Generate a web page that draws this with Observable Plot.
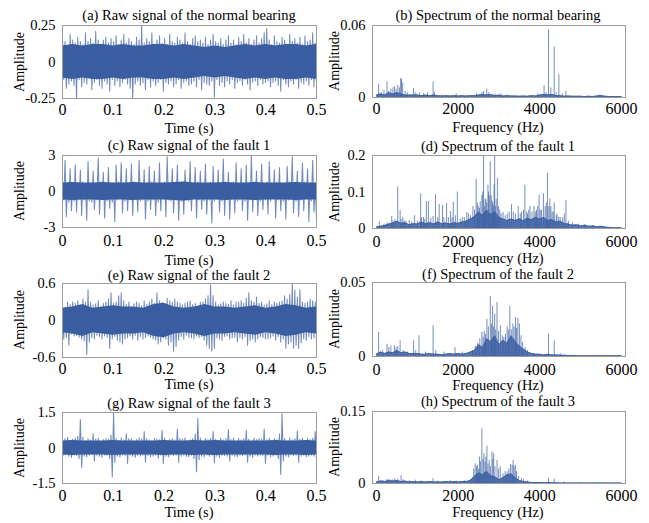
<!DOCTYPE html>
<html><head><meta charset="utf-8">
<script src="https://cdn.jsdelivr.net/npm/d3@7"></script>
<script src="https://cdn.jsdelivr.net/npm/@observablehq/plot@0.6"></script>
<style>
body{margin:0;background:#fff;}
#root{position:relative;width:649px;height:523px;overflow:hidden;background:#fff;font-family:"Liberation Serif","Times New Roman",serif;color:#000;}
.t{position:absolute;white-space:nowrap;transform:translate(-50%,-50%);font-size:14.5px;line-height:1;}
.yl{position:absolute;white-space:nowrap;transform:translate(-50%,-50%) rotate(-90deg);font-size:14px;line-height:1;}
svg{position:absolute;}
svg text{font-family:"Liberation Serif","Times New Roman",serif !important;}
</style></head><body><div id="root"></div>
<script>
// ---------- data ----------
const titles = ["(a) Raw signal of the normal bearing","(b) Spectrum of the normal bearing",
  "(c) Raw signal of the fault 1","(d) Spectrum of the fault 1",
  "(e) Raw signal of the fault 2","(f) Spectrum of the fault 2",
  "(g) Raw signal of the fault 3","(h) Spectrum of the fault 3"];
const timeTicks = [0,0.1,0.2,0.3,0.4,0.5];
const freqTicks = [0,2000,4000,6000];
const ampTicksA = [-0.25,0,0.25], ampTicksC = [-3,0,3], ampTicksE = [-0.6,0,0.6], ampTicksG = [-1.5,0,1.5];
const ampTicksB = [0,0.06], ampTicksD = [0,0.1,0.2], ampTicksF = [0,0.05], ampTicksH = [0,0.15];

// raw signals: sample peaks over 0 .. 0.5 s
const sigA = [.16,-.12,.14,-.18,.11,-.15,.19,-.13,.15,-.16,
.13,-.25,.17,-.12,.14,-.17,.12,-.14,.2,-.15,
.14,-.11,.16,-.19,.13,-.14,.21,-.12,.15,-.16,
.12,-.18,.15,-.13,.17,-.15,.13,-.2,.16,-.12,
.14,-.16,.18,-.13,.12,-.17,.15,-.14,.19,-.12,
.13,-.15,.16,-.18,.14,-.25,.12,-.15,.17,-.13,
.15,-.16,.25,-.14,.13,-.19,.16,-.12,.14,-.17,
.2,-.13,.12,-.16,.15,-.14,.18,-.12,.13,-.2,
.16,-.14,.12,-.15,.19,-.13,.14,-.17,.13,-.15,
.17,-.12,.15,-.18,.13,-.14,.2,-.13,.14,-.16,
.12,-.15,.16,-.13,.18,-.17,.14,-.12,.15,-.19,
.13,-.14,.17,-.15,.12,-.16,.15,-.13,.19,-.24,
.14,-.12,.13,-.16,.16,-.14,.12,-.17,.15,-.13,
.18,-.15,.13,-.12,.15,-.18,.12,-.14,.17,-.13,
.14,-.16,.19,-.12,.13,-.15,.16,-.19,.12,-.14,
.15,-.13,.18,-.16,.13,-.12,.16,-.15,.2,-.14,
.23,-.13,.15,-.17,.12,-.14,.18,-.13,.14,-.16,
.13,-.2,.17,-.12,.15,-.15,.12,-.17,.19,-.13,
.14,-.15,.16,-.12,.13,-.18,.17,-.14,.12,-.15,
.18,-.13,.14,-.16,.15,-.12,.2,-.17,.13,-.14];
const sigC = [.8,-.7,2.6,-2.1,.7,-.9,1.9,-1.6,.6,-.8,
2.2,-1.7,.7,-.6,1.8,-2.0,.8,-.7,.6,-2.4,
2.5,-.8,.7,-.9,1.7,-1.5,.6,-.7,2.8,-1.9,
.8,-.6,1.6,-2.2,.7,-.8,2.0,-1.4,.6,-.9,
.7,-2.5,2.2,-.7,.8,-.6,2.4,-1.8,.7,-.8,
1.9,-1.6,.6,-.7,2.3,-2.0,.8,-.6,.7,-1.7,
2.6,-.8,.6,-.7,1.8,-2.3,.7,-.8,2.1,-1.5,
.8,-.7,1.7,-2.0,.6,-.9,2.4,-1.6,.7,-.6,
.8,-2.1,2.9,-.7,.6,-.8,1.9,-1.8,.7,-.7,
2.2,-2.4,.6,-.8,.8,-1.9,1.8,-.7,.6,-.8,
2.5,-1.6,.7,-.6,2.0,-2.2,.8,-.7,1.7,-1.5,
.6,-.8,2.3,-1.9,.7,-.7,.8,-2.6,2.1,-.8,
.7,-.6,1.8,-1.7,.6,-.8,2.7,-2.0,.8,-.7,
1.6,-2.3,.7,-.6,.8,-1.8,2.4,-.8,.6,-.7,
1.9,-1.6,.7,-.8,2.2,-2.4,.6,-.7,3.0,-1.7,
.8,-.6,1.7,-2.0,.7,-.8,2.3,-1.5,.6,-.7,
.8,-1.9,2.5,-.8,.7,-.6,1.8,-2.2,.8,-.7,
2.0,-1.6,.6,-.8,.7,-2.3,2.1,-.7,.8,-.6,
2.9,-1.8,.7,-.8,1.7,-2.1,.6,-.7,2.4,-1.6,
.8,-.6,1.9,-2.5,.7,-.8,2.6,-1.7,.7,-2.4];
const sigE = [.25,-.3,.22,-.28,.3,-.4,.26,-.22,.3,-.25,
.28,-.24,.32,-.27,.22,-.3,.35,-.33,.3,-.55,
.5,-.35,.3,-.28,.25,-.3,.27,-.24,.32,-.26,
.22,-.3,.28,-.25,.3,-.27,.35,-.45,.45,-.3,
.28,-.26,.3,-.32,.4,-.35,.45,-.38,.32,-.3,
.26,-.28,.3,-.25,.22,-.3,.27,-.24,.3,-.32,
.28,-.26,.24,-.3,.32,-.28,.26,-.25,.3,-.27,
.35,-.3,.28,-.32,.45,-.38,.32,-.35,.3,-.28,
.26,-.3,.36,-.4,.32,-.35,.3,-.5,.35,-.42,
.3,-.32,.28,-.26,.25,-.3,.28,-.24,.3,-.27,
.32,-.28,.26,-.3,.28,-.25,.22,-.28,.3,-.26,
.3,-.32,.35,-.4,.4,-.45,.58,-.5,.4,-.45,
.3,-.28,.25,-.3,.27,-.32,.3,-.26,.28,-.25,
.26,-.3,.32,-.28,.25,-.27,.3,-.35,.3,-.28,
.32,-.3,.28,-.26,.36,-.4,.45,-.33,.32,-.3,
.3,-.35,.38,-.3,.28,-.26,.3,-.28,.25,-.3,
.27,-.3,.32,-.28,.26,-.25,.3,-.32,.28,-.26,
.3,-.35,.32,-.3,.4,-.45,.35,-.38,.42,-.35,
.6,-.45,.5,-.4,.38,-.45,.5,-.36,.3,-.3,
.28,-.32,.3,-.26,.35,-.3,.32,-.28,.3,-.35];
const sigG = [.35,-.3,.4,-.28,.45,-.35,.3,-.4,.38,-.3,
.42,-.32,.5,-.45,1.2,-.82,.45,-.35,.3,-.38,
.4,-.3,.35,-.28,.6,-.55,.38,-.3,.42,-.35,
.3,-.4,.36,-.3,.4,-.32,.38,-.45,.55,-1.22,
1.48,-.6,.4,-.35,.3,-.38,.42,-.3,.35,-.32,
.6,-.65,.4,-.3,.38,-.35,.3,-.4,.36,-.3,
.42,-.35,.38,-.3,.7,-.6,.4,-.32,.35,-.38,
.3,-.35,.4,-.3,.38,-.42,.35,-.3,.75,-.65,
.42,-.35,.3,-.38,.36,-.3,.4,-.32,.35,-.3,
.8,-.6,.4,-.35,.38,-.3,.42,-.36,.3,-.38,
.35,-.3,.4,-.45,.6,-1.0,1.25,-.5,.42,-.35,
.3,-.38,.4,-.3,.36,-.35,.4,-.3,.7,-.62,
.38,-.35,.3,-.4,.42,-.3,.35,-.32,.4,-.35,
.78,-.55,.36,-.3,.42,-.35,.3,-.38,.4,-.3,
.35,-.32,.4,-.3,.75,-.6,.38,-.35,.3,-.4,
.42,-.3,.36,-.35,.4,-.3,.38,-.32,.8,-.65,
.35,-.3,.42,-.38,.3,-.35,.4,-.3,.36,-.45,
.6,-1.12,1.45,-.55,.4,-.35,.3,-.38,.42,-.3,
.35,-.32,.4,-.3,.72,-.6,.38,-.35,.42,-.3,
.3,-.38,.4,-.35,.36,-.3,.42,-.35,.7,-.5];
// dense core half-width of each raw signal, every 0.02 s
const coreA = [.11,.12,.11,.12,.12,.11,.12,.11,.11,.12,.12,.11,.12,.11,.1,.11,.1,.11,.12,.11,.12,.11,.12,.12,.11,.12];
const coreC = [.7,.75,.7,.7,.75,.7,.7,.75,.7,.7,.7,.75,.8,.7,.7,.7,.75,.7,.7,.75,.7,.7,.7,.75,.7,.7];
const coreE = [.2,.22,.26,.2,.22,.24,.22,.22,.2,.26,.28,.22,.2,.22,.26,.22,.22,.2,.22,.24,.2,.22,.26,.24,.2,.22];
const coreG = [.3,.32,.3,.3,.3,.32,.3,.3,.3,.3,.32,.3,.3,.32,.3,.32,.3,.3,.3,.3,.3,.32,.3,.3,.32,.3];

// spectra: noise floor every 100 Hz (0..6000) and [frequency, amplitude] peaks
const floorB = [.002,.003,.002,.004,.003,.004,.003,.002,.002,.002,
.002,.0015,.002,.0015,.002,.0015,.0012,.0015,.0012,.0015,
.0012,.0015,.0012,.0015,.0015,.002,.0025,.002,.0025,.0015,
.002,.0012,.0015,.0012,.0012,.001,.0012,.001,.0015,.0012,
.002,.0025,.002,.0025,.0015,.0015,.001,.0012,.001,.001,
.001,.0008,.001,.0008,.0012,.0015,.001,.0008,.0008,.0008,.0008];
const peaksB = [[50,.011],[120,.004],[180,.006],[255,.013],[300,.005],[350,.007],[400,.008],[440,.009],[480,.007],[520,.010],[560,.008],[590,.016],[610,.015],[640,.012],[700,.005],[760,.004],[905,.0075],[960,.004],[1050,.004],[1150,.003],[1250,.004],[1385,.013],[1420,.004],[1600,.002],[1950,.003],[2450,.003],[2580,.004],[2620,.005],[2700,.007],[2750,.004],[2900,.003],[3050,.003],[3200,.002],[3950,.003],[4105,.0098],[4150,.004],[4213,.0565],[4270,.008],[4353,.042],[4400,.004],[4468,.019],[4550,.003],[4640,.005],[5450,.002],[5500,.002]];
const floorD = [.004,.006,.008,.012,.015,.02,.014,.016,.01,.013,
.012,.018,.013,.016,.012,.018,.013,.015,.012,.016,
.014,.018,.02,.026,.032,.045,.036,.05,.038,.046,
.03,.026,.022,.026,.022,.027,.021,.028,.024,.03,
.026,.03,.022,.024,.018,.02,.014,.012,.009,.01,
.007,.009,.006,.007,.005,.006,.004,.003,.002,.002,.002];
const peaksD = [[66,.018],[180,.012],[260,.015],[371,.033],[400,.02],[450,.025],[519,.114],[577,.049],[600,.025],[643,.03],[680,.02],[720,.02],[800,.022],[860,.018],[931,.035],[1000,.02],[1080,.095],[1100,.03],[1150,.03],[1180,.025],[1220,.074],[1270,.074],[1330,.028],[1385,.033],[1443,.093],[1500,.03],[1533,.066],[1616,.063],[1650,.03],[1715,.068],[1760,.03],[1814,.046],[1850,.03],[1880,.072],[1930,.035],[1979,.1],[2050,.025],[2100,.03],[2150,.03],[2209,.044],[2250,.04],[2300,.035],[2360,.06],[2400,.05],[2440,.135],[2470,.07],[2490,.06],[2520,.055],[2539,.074],[2580,.09],[2600,.1],[2622,.2],[2640,.06],[2660,.08],[2680,.08],[2700,.07],[2729,.119],[2745,.1],[2760,.09],[2786,.183],[2810,.09],[2830,.075],[2845,.07],[2860,.063],[2880,.12],[2894,.2],[2910,.06],[2930,.08],[2960,.137],[2990,.06],[3020,.05],[3050,.04],[3100,.044],[3150,.035],[3200,.04],[3250,.045],[3306,.065],[3350,.045],[3400,.04],[3470,.06],[3520,.04],[3550,.045],[3600,.05],[3635,.119],[3680,.045],[3700,.04],[3730,.05],[3759,.061],[3810,.045],[3858,.06],[3890,.045],[3920,.05],[3950,.06],[3982,.091],[4010,.05],[4040,.05],[4089,.095],[4130,.06],[4160,.07],[4188,.151],[4220,.06],[4246,.081],[4270,.06],[4300,.045],[4330,.045],[4353,.07],[4400,.035],[4420,.04],[4460,.03],[4500,.03],[4560,.03],[4600,.04],[4641,.077],[4700,.02],[4800,.015],[4950,.012],[5100,.01],[5300,.008]];
const floorF = [.0015,.003,.002,.003,.0025,.004,.0025,.003,.002,.002,
.002,.0015,.0015,.002,.0015,.0015,.0012,.0015,.002,.0015,
.002,.0015,.002,.003,.004,.008,.006,.012,.01,.014,
.008,.011,.009,.014,.01,.007,.005,.003,.002,.0015,
.0015,.001,.0015,.001,.001,.0008,.0008,.0006,.0006,.0005,
.0005,.0005,.0005,.0005,.0005,.0005,.0005,.0005,.0005,.0005,.0005];
const peaksF = [[50,.0162],[150,.004],[255,.0083],[300,.006],[350,.007],[437,.0072],[480,.006],[520,.0068],[577,.0106],[650,.004],[760,.003],[907,.0106],[960,.004],[1039,.014],[1200,.003],[1385,.0207],[1450,.004],[1650,.003],[1921,.006],[2100,.003],[2350,.004],[2420,.007],[2480,.009],[2530,.012],[2580,.0162],[2610,.013],[2638,.017],[2670,.015],[2704,.025],[2740,.02],[2786,.0405],[2815,.022],[2844,.034],[2870,.02],[2894,.0286],[2920,.018],[2951,.0365],[2990,.017],[3034,.0207],[3080,.014],[3120,.013],[3160,.015],[3200,.02],[3230,.018],[3265,.0338],[3300,.018],[3340,.022],[3370,.02],[3405,.0264],[3430,.019],[3462,.0257],[3500,.022],[3540,.014],[3580,.0095],[3640,.006],[3700,.004],[3850,.002],[4213,.0151],[4353,.0106],[4500,.002]];
const floorH = [.003,.005,.004,.006,.005,.006,.004,.005,.003,.004,
.003,.004,.003,.004,.003,.003,.003,.004,.003,.004,
.003,.004,.004,.006,.015,.022,.018,.025,.016,.014,
.008,.012,.018,.02,.012,.006,.004,.003,.002,.002,
.002,.0015,.002,.0015,.0015,.001,.001,.001,.001,.001,
.001,.001,.001,.001,.001,.001,.001,.001,.001,.001,.001];
const peaksH = [[50,.015],[150,.006],[250,.008],[300,.009],[380,.008],[450,.01],[520,.009],[600,.016],[650,.008],[800,.006],[950,.007],[1100,.005],[1385,.01],[1500,.005],[1800,.006],[1950,.005],[2150,.006],[2300,.008],[2380,.03],[2415,.041],[2450,.035],[2470,.038],[2500,.03],[2523,.055],[2550,.045],[2580,.114],[2610,.05],[2630,.062],[2660,.045],[2680,.055],[2704,.078],[2730,.04],[2760,.048],[2790,.035],[2828,.066],[2850,.05],[2870,.062],[2900,.035],[2951,.048],[2990,.03],[3030,.035],[3100,.02],[3150,.025],[3200,.024],[3240,.03],[3280,.04],[3320,.038],[3347,.048],[3370,.035],[3400,.038],[3430,.025],[3480,.015],[3550,.01],[3600,.008],[3700,.005],[4213,.01],[4353,.009],[4600,.003],[5000,.002]];

// ---------- drawing ----------
const BLUE = "#3b5ea2";
const SERIF = "Liberation Serif, Times New Roman, serif";
const root = document.getElementById("root");
function addText(txt, x, y, cls){ const d=document.createElement("div"); d.className=cls; d.textContent=txt; d.style.left=x+"px"; d.style.top=y+"px"; root.appendChild(d); }

function panel(fr, xDomain, yDomain, xTicks, yTicks, marks, xPad, yPad){
  const ml=60, mr=14, mt=6, mb=34;
  const w=fr.r-fr.l, h=fr.b-fr.t;
  const svg = Plot.plot({
    width:w+ml+mr, height:h+mt+mb, marginLeft:ml, marginRight:mr, marginTop:mt, marginBottom:mb,
    style:{fontFamily:SERIF, fontSize:"14px", color:"#000", background:"transparent", overflow:"visible"},
    x:{domain:xDomain}, y:{domain:yDomain},
    marks:[
      ...marks,
      Plot.frame({stroke:"#9c9c9c", strokeWidth:1}),
      Plot.axisX({ticks:xTicks, tickSize:0, tickPadding:xPad, tickFormat:d=>String(d), label:null, fontSize:16, fontFamily:SERIF}),
      Plot.axisY({ticks:yTicks, tickSize:0, tickPadding:yPad, tickFormat:d=>String(d), label:null, fontSize:14.5, fontFamily:SERIF})
    ]
  });
  svg.style.left=(fr.l-ml)+"px"; svg.style.top=(fr.t-mt)+"px";
  root.appendChild(svg);
}
function rawMarks(sig, core){
  return [
    Plot.areaY(core, {x:(d,i)=>i*0.02, y1:d=>-d, y2:d=>d, fill:BLUE, clip:true}),
    Plot.lineY(sig, {x:(d,i)=>i*0.5/(sig.length-1), y:d=>d, stroke:BLUE, strokeWidth:1.05, strokeOpacity:0.72, clip:true})
  ];
}
function specMarks(floor, peaks){
  return [
    Plot.ruleX(peaks, {x:d=>d[0], y1:0, y2:d=>d[1], stroke:BLUE, strokeWidth:1, strokeOpacity:0.7, clip:true}),
    Plot.areaY(floor, {x:(d,i)=>i*100, y:d=>d, fill:BLUE, fillOpacity:0.85, clip:true}),
    Plot.lineY(floor, {x:(d,i)=>i*100, y:d=>d, stroke:BLUE, strokeWidth:0.8, clip:true})
  ];
}
const FX=[-100,6100];
const L={l:62,r:316}, R={l:372,r:625};
const rows=[{lt:25,lb:98,rt:25,rb:97},{lt:155,lb:227,rt:155,rb:228},{lt:283,lb:357,rt:282,rb:356},{lt:412,lb:483,rt:411,rb:483}];
panel({l:L.l,r:L.r,t:rows[0].lt,b:rows[0].lb},[0,0.5],[-0.25,0.25],timeTicks,ampTicksA,rawMarks(sigA,coreA),5,7);
panel({l:R.l,r:R.r,t:rows[0].rt,b:rows[0].rb},FX,[0,0.06],freqTicks,ampTicksB,specMarks(floorB,peaksB),5,7);
panel({l:L.l,r:L.r,t:rows[1].lt,b:rows[1].lb},[0,0.5],[-3,3],timeTicks,ampTicksC,rawMarks(sigC,coreC),7,7);
panel({l:R.l,r:R.r,t:rows[1].rt,b:rows[1].rb},FX,[0,0.2],freqTicks,ampTicksD,specMarks(floorD,peaksD),7,7);
panel({l:L.l,r:L.r,t:rows[2].lt,b:rows[2].lb},[0,0.5],[-0.6,0.6],timeTicks,ampTicksE,rawMarks(sigE,coreE),5,7);
panel({l:R.l,r:R.r,t:rows[2].rt,b:rows[2].rb},FX,[0,0.05],freqTicks,ampTicksF,specMarks(floorF,peaksF),7,7);
panel({l:L.l,r:L.r,t:rows[3].lt,b:rows[3].lb},[0,0.5],[-1.5,1.5],timeTicks,ampTicksG,rawMarks(sigG,coreG),6,7);
panel({l:R.l,r:R.r,t:rows[3].rt,b:rows[3].rb},FX,[0,0.15],freqTicks,ampTicksH,specMarks(floorH,peaksH),6,7);

const titleY=[[15,15],[145,146],[275,274],[403,401]];
const xlabY=[[128,127],[260,258],[384,385],[512,512]];
for(let r=0;r<4;r++){
  addText(titles[2*r], 189, titleY[r][0], "t");
  addText(titles[2*r+1], 498, titleY[r][1], "t");
  addText("Time (s)", 189, xlabY[r][0], "t");
  addText("Frequency (Hz)", 498, xlabY[r][1], "t");
  addText("Amplitude", 20, (rows[r].lt+rows[r].lb)/2, "yl");
  addText("Amplitude", 335, (rows[r].rt+rows[r].rb)/2, "yl");
}
</script></body></html>
